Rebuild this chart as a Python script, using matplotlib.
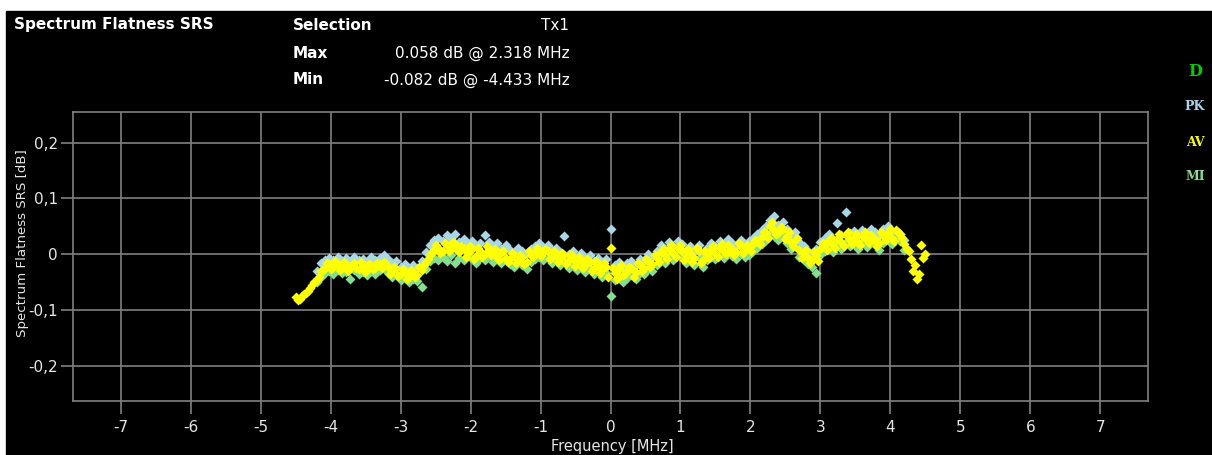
import matplotlib.pyplot as plt
from matplotlib.patches import Rectangle
import numpy as np

W, H = 1212, 455

# average trace (AV), one value every 0.06 MHz from -4.50 to 4.50 MHz
av_freq = np.round(np.arange(-4.50, 4.501, 0.06), 2)
av_db = [
    -0.076, -0.080, -0.072, -0.066, -0.055, -0.047, -0.030, -0.024, -0.018, -0.022,
    -0.017, -0.025, -0.020, -0.023, -0.016, -0.026, -0.021, -0.028, -0.019, -0.024,
    -0.018, -0.013, -0.022, -0.030, -0.027, -0.036, -0.031, -0.040, -0.033, -0.037,
    -0.028, -0.014, -0.002, 0.008, 0.012, 0.006, 0.016, 0.010, 0.018, 0.004,
    0.011, 0.002, 0.009, -0.003, 0.006, 0.001, 0.010, 0.004, -0.004, 0.003,
    -0.006, -0.009, -0.002, -0.011, -0.005, -0.013, -0.001, 0.003, 0.008, 0.002,
    0.005, -0.004, 0.000, -0.008, -0.002, -0.011, -0.006, -0.015, -0.010, -0.019,
    -0.014, -0.024, -0.020, -0.028, -0.022, 0.012, -0.034, -0.027, -0.038, -0.030,
    -0.025, -0.032, -0.020, -0.024, -0.013, -0.017, -0.006, 0.004, -0.002, 0.010,
    0.003, 0.012, 0.006, -0.004, 0.002, -0.007, 0.005, -0.010, 0.001, 0.008,
    0.003, 0.012, 0.006, 0.016, 0.009, 0.004, 0.013, 0.007, 0.011, 0.018,
    0.024, 0.031, 0.038, 0.050, 0.044, 0.038, 0.045, 0.032, 0.022, 0.026,
    0.008, 0.002, -0.006, -0.010, -0.002, 0.010, 0.018, 0.024, 0.016, 0.028,
    0.022, 0.034, 0.026, 0.030, 0.022, 0.032, 0.025, 0.035, 0.028, 0.020,
    0.033, 0.038, 0.030, 0.044, 0.036, 0.018, 0.006, -0.030, -0.044, 0.016,
    0.000,
]
# AV samples in between (-4.47 .. 4.47 MHz), the scatter of the cloud
av_freq_b = np.round(np.arange(-4.47, 4.471, 0.06), 2)
av_db_b = [
    -0.082, -0.074, -0.070, -0.060, -0.050, -0.040, -0.028, -0.016, -0.026, -0.012,
    -0.028, -0.014, -0.030, -0.019, -0.024, -0.013, -0.032, -0.017, -0.027, -0.015,
    -0.024, -0.017, -0.035, -0.022, -0.039, -0.026, -0.044, -0.029, -0.041, -0.022,
    -0.020, -0.008, 0.004, 0.016, 0.002, 0.020, 0.005, 0.022, 0.008, 0.014,
    -0.004, 0.014, -0.008, 0.012, -0.004, 0.015, -0.002, 0.009, -0.010, 0.006,
    -0.014, 0.002, -0.016, -0.001, -0.018, 0.006, -0.004, 0.012, -0.003, 0.010,
    -0.009, 0.006, -0.014, 0.003, -0.017, 0.000, -0.021, -0.004, -0.024, -0.008,
    -0.030, -0.012, -0.034, -0.016, -0.040, -0.024, -0.044, -0.020, -0.036, -0.022,
    -0.040, -0.016, -0.030, -0.008, -0.022, -0.002, -0.014, 0.010, -0.008, 0.016,
    -0.004, 0.016, -0.010, 0.010, -0.014, 0.012, -0.016, 0.006, -0.006, 0.014,
    -0.004, 0.018, 0.000, 0.010, -0.002, 0.020, 0.002, 0.016, 0.006, 0.026,
    0.018, 0.040, 0.030, 0.058, 0.036, 0.048, 0.028, 0.040, 0.014, 0.030,
    -0.006, 0.008, -0.016, 0.004, -0.012, 0.020, 0.008, 0.030, 0.012, 0.036,
    0.014, 0.040, 0.018, 0.036, 0.016, 0.040, 0.020, 0.028, 0.014, 0.040,
    0.026, 0.046, 0.024, 0.040, 0.030, 0.010, -0.008, -0.020, -0.036, -0.006,
]

# peak (PK) and min (MI) traces, -4.20 to 4.20 MHz
pk_freq = np.round(np.arange(-4.20, 4.201, 0.06), 2)
pk_db = [
    -0.030, -0.016, -0.010, -0.006, -0.011, -0.004, -0.012, -0.007, -0.013, -0.005,
    -0.010, -0.008, -0.014, -0.004, -0.011, -0.006, -0.002, -0.009, -0.015, -0.012,
    -0.022, -0.018, -0.026, -0.020, -0.024, -0.012, 0.004, 0.016, 0.026, 0.030,
    0.024, 0.034, 0.028, 0.036, 0.022, 0.027, 0.018, 0.024, 0.014, 0.020,
    0.035, 0.022, 0.015, 0.020, 0.010, 0.016, 0.008, 0.004, 0.012, 0.006,
    0.002, 0.010, 0.014, 0.020, 0.013, 0.017, 0.008, 0.012, 0.004, 0.032,
    0.000, 0.006, -0.004, 0.002, -0.007, -0.002, -0.012, -0.006, -0.015, -0.009,
    0.045, -0.020, -0.014, -0.024, -0.016, -0.012, -0.019, -0.008, -0.011, 0.000,
    -0.004, 0.006, 0.016, 0.010, 0.022, 0.014, 0.024, 0.018, 0.008, 0.014,
    0.004, 0.017, 0.002, 0.012, 0.020, 0.015, 0.024, 0.018, 0.028, 0.021,
    0.016, 0.025, 0.019, 0.023, 0.030, 0.036, 0.043, 0.050, 0.062, 0.069,
    0.052, 0.058, 0.046, 0.036, 0.040, 0.022, 0.015, 0.006, 0.002, 0.010,
    0.022, 0.030, 0.036, 0.028, 0.056, 0.034, 0.075, 0.038, 0.042, 0.034,
    0.044, 0.037, 0.046, 0.040, 0.032, 0.045, 0.050, 0.042, 0.040, 0.036,
    0.026,
]
mi_db = [
    -0.050, -0.040, -0.034, -0.030, -0.036, -0.029, -0.034, -0.031, -0.044, -0.028,
    -0.036, -0.032, -0.038, -0.030, -0.035, -0.029, -0.024, -0.033, -0.040, -0.037,
    -0.046, -0.042, -0.050, -0.044, -0.048, -0.058, -0.026, -0.012, -0.006, -0.010,
    -0.004, -0.012, -0.002, -0.016, -0.006, -0.010, -0.002, -0.008, -0.015, -0.006,
    -0.011, -0.003, -0.014, -0.008, -0.016, -0.009, -0.018, -0.022, -0.013, -0.020,
    -0.026, -0.013, -0.009, -0.004, -0.010, -0.006, -0.016, -0.011, -0.020, -0.013,
    -0.024, -0.018, -0.028, -0.022, -0.031, -0.026, -0.036, -0.030, -0.040, -0.034,
    -0.074, -0.046, -0.040, -0.050, -0.042, -0.037, -0.044, -0.033, -0.036, -0.026,
    -0.030, -0.019, -0.010, -0.016, -0.004, -0.010, 0.000, -0.006, -0.016, -0.010,
    -0.019, -0.007, -0.022, -0.011, -0.004, -0.009, 0.000, -0.006, 0.004, -0.003,
    -0.008, 0.001, -0.005, -0.001, 0.006, 0.012, 0.019, 0.026, 0.038, 0.032,
    0.026, 0.033, 0.020, 0.010, 0.014, -0.004, -0.010, -0.018, -0.022, -0.033,
    -0.002, 0.006, 0.012, 0.004, 0.016, 0.010, 0.022, 0.014, 0.018, 0.010,
    0.020, 0.013, 0.023, 0.016, 0.008, 0.021, 0.026, 0.018, 0.030, 0.024,
    0.008,
]

x_ticks = list(range(-7, 8))
y_ticks = [0.2, 0.1, 0, -0.1, -0.2]
y_tick_labels = ['0,2', '0,1', '0', '-0,1', '-0,2']

GRID = '#808080'
LBL = '#e6e6e6'


def fx(px):
    return px / W


def fy(py):
    return 1 - py / H


fig = plt.figure(figsize=(W / 100, H / 100), dpi=100, facecolor='white')
fig.add_artist(Rectangle((fx(6), 0), 1, fy(11), transform=fig.transFigure,
                         color='black', zorder=0))

ax = fig.add_axes([fx(73), fy(401), fx(1148 - 73), (401 - 112) / H])
ax.set_facecolor('black')

ms = 5.0
ax.plot(pk_freq, pk_db, 'D', color='#a8d8e8', ms=ms, mec='none', zorder=3)
ax.plot(pk_freq, mi_db, 'D', color='#84e08c', ms=ms, mec='none', zorder=4)
ax.plot(av_freq_b, av_db_b, 'D', color='#ffff00', ms=ms, mec='none', zorder=5)
ax.plot(av_freq, av_db, 'D', color='#ffff00', ms=ms, mec='none', zorder=5)

ax.set_xlim(-7.68, 7.68)
ax.set_ylim(-0.263, 0.255)
ax.set_xticks(x_ticks)
ax.set_xticklabels([str(t) for t in x_ticks])
ax.set_yticks(y_ticks)
ax.set_yticklabels(y_tick_labels)
ax.grid(True, color=GRID, lw=1.2)
ax.set_axisbelow(True)
for s in ax.spines.values():
    s.set_color(GRID)
    s.set_linewidth(1.2)
ax.tick_params(axis='both', colors=GRID, labelcolor=LBL, length=9, width=1.2,
               labelsize=11)
ax.tick_params(axis='x', pad=5)
ax.tick_params(axis='y', pad=2)

fig.text(fx(23), fy(243), 'Spectrum Flatness SRS [dB]', rotation=90,
         ha='center', va='center', color=LBL, fontsize=9.6)
fig.text(fx(612), fy(451), 'Frequency [MHz]', ha='center', va='baseline',
         color=LBL, fontsize=10.5)

# header block
hdr = dict(color='white', fontsize=11, va='center')
fig.text(fx(14), fy(25), 'Spectrum Flatness SRS', fontweight='bold', **hdr)
fig.text(fx(293), fy(25), 'Selection', fontweight='bold', **hdr)
fig.text(fx(293), fy(53), 'Max', fontweight='bold', **hdr)
fig.text(fx(293), fy(80), 'Min', fontweight='bold', **hdr)
fig.text(fx(569), fy(25), 'Tx1', ha='right', **hdr)
fig.text(fx(570), fy(53), '0.058 dB @ 2.318 MHz', ha='right', **hdr)
fig.text(fx(570), fy(80), '-0.082 dB @ -4.433 MHz', ha='right', **hdr)

# trace legend on the right
leg = [('D', '#00d000', 11.5, 72), ('PK', '#a8d8e8', 9, 107),
       ('AV', '#ffff00', 9, 142), ('MI', '#84e08c', 9, 177)]
for txt, col, fs, y in leg:
    fig.text(fx(1195), fy(y), txt, color=col, fontsize=fs, ha='center',
             va='center', fontweight='bold', family='DejaVu Serif')

fig.savefig('out.png', dpi=100, facecolor=fig.get_facecolor())
